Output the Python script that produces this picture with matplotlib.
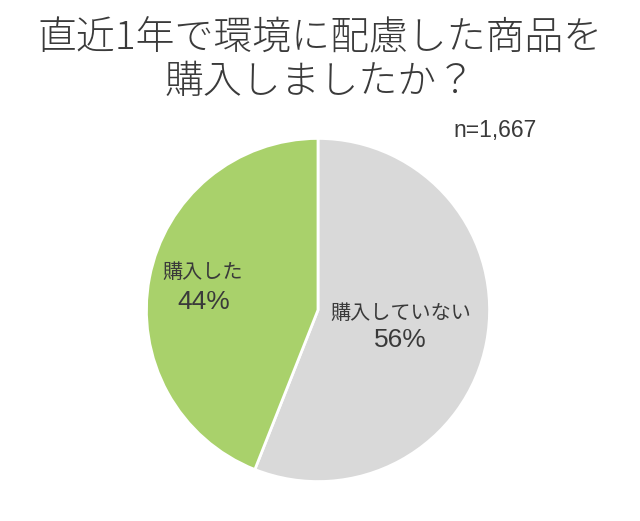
import matplotlib
matplotlib.use("Agg")
import matplotlib.pyplot as plt

plt.rcParams['font.family'] = ['Noto Sans CJK JP', 'DejaVu Sans']

labels = ["購入していない", "購入した"]
shares = [56, 44]
colors = ["#D9D9D9", "#A9D16B"]
title_lines = ["直近1年で環境に配慮した商品を", "購入しましたか？"]
note = "n=1,667"

latin = ['Liberation Sans', 'Noto Sans CJK JP']
txt_color = "#3a3a3a"

fig = plt.figure(figsize=(6.4, 5.21), dpi=100)
fig.patch.set_facecolor("white")

# title, two lines
fig.text(0.5, 1 - 39 / 521, title_lines[0], ha="center", va="center", fontsize=28,
         color=txt_color, fontweight="light")
fig.text(0.5, 1 - 82 / 521, title_lines[1], ha="center", va="center", fontsize=28,
         color=txt_color, fontweight="light")
fig.text(495 / 640, 1 - 130 / 521, note, ha="center", va="center", fontsize=16.5,
         color=txt_color, family=latin)

# pie axes: center ~(318,310) px, radius ~175 px
ax = fig.add_axes([(318 - 175) / 640, (521 - 310 - 175) / 521, 350 / 640, 350 / 521])
wedges, _ = ax.pie(shares, colors=colors, startangle=90, counterclock=False,
                   wedgeprops=dict(edgecolor="white", linewidth=2))
ax.set_xlim(-1.02, 1.02)
ax.set_ylim(-1.02, 1.02)
ax.set_aspect("equal")
ax.axis("off")

# name line / percent line positions inside each wedge
name_pos = [(0.480, -0.023), (-0.674, 0.217)]
pct_pos = [(0.480, -0.177), (-0.663, 0.046)]
for lab, val, npos, ppos in zip(labels, shares, name_pos, pct_pos):
    ax.text(npos[0], npos[1], lab, ha="center", va="center", fontsize=14.5,
            color=txt_color)
    ax.text(ppos[0], ppos[1], f"{val}%", ha="center", va="center", fontsize=19,
            color=txt_color, family=latin)

fig.savefig("out.png", dpi=100)
